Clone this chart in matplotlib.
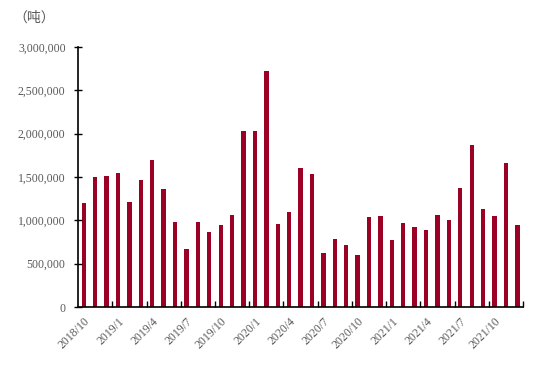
import matplotlib
matplotlib.use("Agg")
import matplotlib.pyplot as plt
import numpy as np
from matplotlib.ticker import FuncFormatter

# monthly values, 2018/10 .. 2021/12 (tonnes)
months = ["2018/10", "2018/11", "2018/12",
          "2019/1", "2019/2", "2019/3", "2019/4", "2019/5", "2019/6",
          "2019/7", "2019/8", "2019/9", "2019/10", "2019/11", "2019/12",
          "2020/1", "2020/2", "2020/3", "2020/4", "2020/5", "2020/6",
          "2020/7", "2020/8", "2020/9", "2020/10", "2020/11", "2020/12",
          "2021/1", "2021/2", "2021/3", "2021/4", "2021/5", "2021/6",
          "2021/7", "2021/8", "2021/9", "2021/10", "2021/11", "2021/12"]
values = [1200000, 1500000, 1510000,
          1550000, 1210000, 1460000, 1690000, 1360000, 975000,
          665000, 980000, 870000, 945000, 1060000, 2030000,
          2030000, 2720000, 955000, 1100000, 1600000, 1530000,
          620000, 785000, 720000, 600000, 1040000, 1055000,
          770000, 970000, 925000, 885000, 1060000, 1000000,
          1370000, 1870000, 1130000, 1055000, 1660000, 950000]
unit = "（吨）"

plt.rcParams['font.family'] = ['Liberation Serif', 'Noto Sans CJK SC']
text_col = '#595959'

fig = plt.figure(figsize=(5.5, 3.69), dpi=100)
ax = fig.add_axes([0.142, 0.168, 0.809, 0.705])

x = np.arange(len(values))
ax.bar(x, values, width=0.38, color='#9B0025')

ax.set_xlim(-0.5, len(values) - 0.5)
ax.set_ylim(0, 3000000)
ax.set_yticks(np.arange(0, 3000001, 500000))
ax.yaxis.set_major_formatter(FuncFormatter(lambda v, p: f"{int(v):,}"))

# labels every 3 months on bars, tick marks between categories
ax.set_xticks(x[::3], minor=False)
ax.set_xticklabels(months[::3], rotation=45, ha='right',
                   rotation_mode='anchor', fontsize=8.5, color=text_col)
ax.tick_params(axis='x', which='major', length=0, pad=6)
ax.set_xticks(np.arange(2.5, len(values), 3), minor=True)
ax.tick_params(axis='x', which='minor', direction='in', length=4, width=1)

ax.tick_params(axis='y', direction='inout', length=6, width=1,
               labelsize=8.5, labelcolor=text_col, pad=6)

for s in ['top', 'right']:
    ax.spines[s].set_visible(False)
for s in ['left', 'bottom']:
    ax.spines[s].set_linewidth(1.2)

fig.text(0.025, 0.952, unit, fontsize=10, color=text_col,
         family=['Noto Sans CJK SC'], va='center')

fig.savefig("out.png", dpi=100)
